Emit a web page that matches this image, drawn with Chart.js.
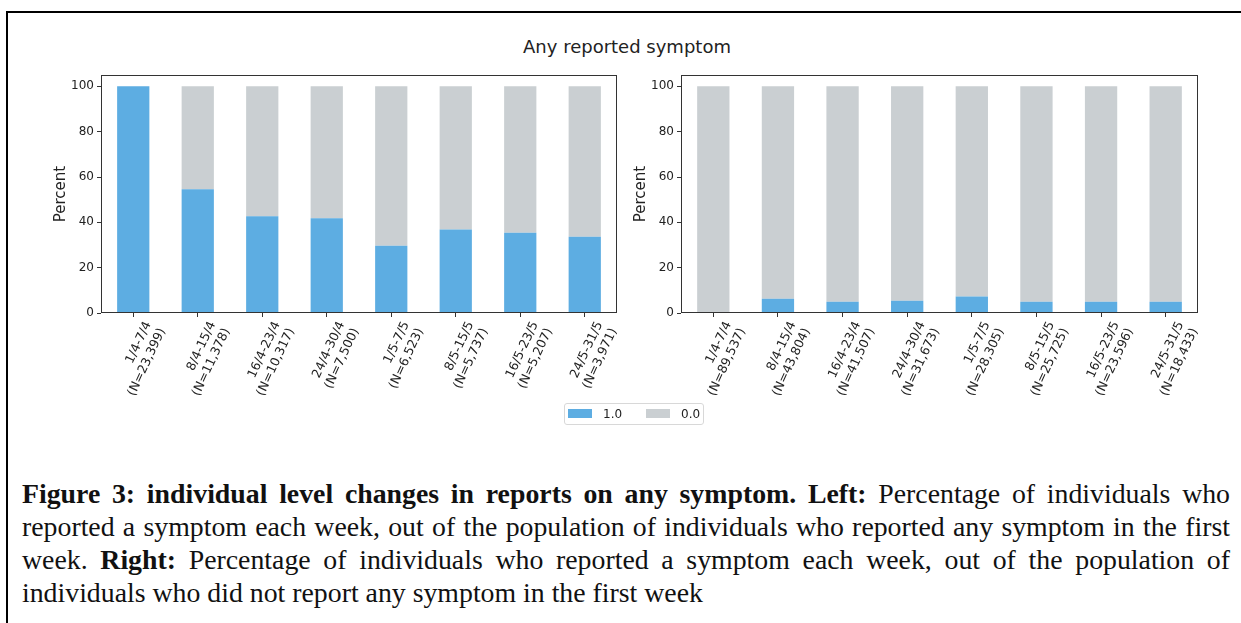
<!DOCTYPE html>
<html>
<head>
<meta charset="utf-8">
<script src="https://cdn.jsdelivr.net/npm/chart.js@4.4.1/dist/chart.umd.min.js"></script>
<style>
  html, body { margin:0; padding:0; background:#fff; }
  body { width:1241px; height:623px; position:relative; overflow:hidden; font-family:"DejaVu Sans", sans-serif; }
  #frameTop { position:absolute; left:6px; top:11px; width:1235px; height:2px; background:#000; }
  #frameLeft { position:absolute; left:6px; top:11px; width:2px; height:612px; background:#000; }
  #title { position:absolute; left:0; width:1254px; top:36px; text-align:center; font-size:18px; color:#222; font-family:"DejaVu Sans"; }
  .cbox { position:absolute; }
  #legend { position:absolute; left:564px; top:403px; width:138px; height:20px; border:1px solid #d8d8d8; border-radius:3px; font-size:12px; color:#222; font-family:"DejaVu Sans"; }
  #legend .item { position:absolute; top:0; height:20px; line-height:20px; }
  #legend .sw { position:absolute; top:5px; width:24px; height:9px; }
  #caption { position:absolute; left:22px; top:477px; width:1208px; font-family:"Liberation Serif","Times New Roman",serif; font-size:27.8px; line-height:33px; color:#111; }
  #caption .ln { display:block; text-align:justify; text-align-last:justify; white-space:nowrap; }
  #caption .ln.last { text-align-last:left; }
</style>
</head>
<body>
<div id="frameTop"></div>
<div id="frameLeft"></div>
<div id="title">Any reported symptom</div>
<div class="cbox" style="left:0;top:60px;width:630px;height:370px;"><canvas id="c1" width="630" height="370"></canvas></div>
<div class="cbox" style="left:620px;top:60px;width:621px;height:370px;"><canvas id="c2" width="621" height="370"></canvas></div>
<div id="legend"></div>
<div id="caption">
  <span class="ln"><b>Figure 3: individual level changes in reports on any symptom. Left:</b> Percentage of individuals who</span>
  <span class="ln">reported a symptom each week, out of the population of individuals who reported any symptom in the first</span>
  <span class="ln">week. <b>Right:</b> Percentage of individuals who reported a symptom each week, out of the population of</span>
  <span class="ln last">individuals who did not report any symptom in the first week</span>
</div>
<script>
// ---- data ----
const weeks = ['1/4-7/4', '8/4-15/4', '16/4-23/4', '24/4-30/4', '1/5-7/5', '8/5-15/5', '16/5-23/5', '24/5-31/5'];
const nLeft = ['23,399', '11,378', '10,317', '7,500', '6,523', '5,737', '5,207', '3,971'];
const nRight = ['89,537', '43,804', '41,507', '31,673', '28,305', '25,725', '23,596', '18,433'];
const seriesNames = ['1.0', '0.0'];
const leftYes = [100, 54.6, 42.7, 41.8, 29.7, 36.8, 35.4, 33.6];
const leftNo = [0, 45.4, 57.3, 58.2, 70.3, 63.2, 64.6, 66.4];
const rightYes = [0, 6.3, 5.0, 5.4, 7.3, 5.0, 5.0, 5.0];
const rightNo = [100, 93.7, 95.0, 94.6, 92.7, 95.0, 95.0, 95.0];
const yTicks = [0, 20, 40, 60, 80, 100];
const yLabel = 'Percent';

const colors = ['#5DADE2', '#CACFD2'];
const FONT = '"DejaVu Sans", sans-serif';

const framePlugin = {
  id: 'frame',
  afterDatasetsDraw(chart) {
    const a = chart.chartArea, ctx = chart.ctx;
    ctx.save();
    ctx.strokeStyle = '#333';
    ctx.lineWidth = 1;
    ctx.strokeRect(Math.round(a.left) + 0.5, Math.round(a.top) + 0.5, Math.round(a.right - a.left) - 1, Math.round(a.bottom - a.top) - 1);
    ctx.restore();
  }
};

function makeChart(id, ns, yes, no, opts) {
  const labels = weeks.map((w, i) => [w, '(N=' + ns[i] + ')']);
  return new Chart(document.getElementById(id), {
    type: 'bar',
    data: {
      labels,
      datasets: [
        { label: seriesNames[0], data: yes, backgroundColor: colors[0], borderWidth: 0, barPercentage: 0.5, categoryPercentage: 1 },
        { label: seriesNames[1], data: no, backgroundColor: colors[1], borderWidth: 0, barPercentage: 0.5, categoryPercentage: 1 }
      ]
    },
    options: {
      responsive: false,
      animation: false,
      layout: { padding: { top: 15, right: opts.padRight, left: 0, bottom: 0 } },
      plugins: { legend: { display: false }, tooltip: { enabled: false }, title: { display: false } },
      scales: {
        x: {
          stacked: true,
          offset: true,
          border: { display: false },
          grid: { offset: false, drawOnChartArea: false, drawTicks: true, tickLength: 4, color: '#333' },
          ticks: {
            autoSkip: false, minRotation: 65, maxRotation: 65, labelOffset: opts.labelOffset, padding: 2,
            color: '#222', font: { family: FONT, size: 12.5, lineHeight: 1.25 }
          },
          afterFit(scale) { scale.height = 117; }
        },
        y: {
          stacked: true,
          min: 0, max: 105,
          border: { display: false },
          grid: { drawOnChartArea: false, drawTicks: true, tickLength: 4, color: '#333' },
          afterBuildTicks(scale) { scale.ticks = yTicks.map(v => ({ value: v })); },
          ticks: { color: '#222', padding: 3, font: { family: FONT, size: 12 } },
          title: { display: true, text: yLabel, color: '#222', font: { family: FONT, size: 15 }, padding: { top: opts.titlePad, bottom: 0 } },
          afterFit(scale) { scale.width = opts.yWidth; }
        }
      }
    },
    plugins: [framePlugin]
  });
}

makeChart('c1', nLeft, leftYes, leftNo, { yWidth: 101, padRight: 13, labelOffset: 15, titlePad: 52 });
makeChart('c2', nRight, rightYes, rightNo, { yWidth: 61, padRight: 43, labelOffset: 15, titlePad: 12 });

// legend built from series names
const lg = document.getElementById('legend');
const lpos = [{ sw: 3, tx: 38 }, { sw: 81, tx: 116 }];
seriesNames.forEach((name, i) => {
  const sw = document.createElement('div');
  sw.className = 'sw'; sw.style.left = lpos[i].sw + 'px'; sw.style.background = colors[i];
  const tx = document.createElement('div');
  tx.className = 'item'; tx.style.left = lpos[i].tx + 'px'; tx.textContent = name;
  lg.appendChild(sw); lg.appendChild(tx);
});
</script>
</body>
</html>
